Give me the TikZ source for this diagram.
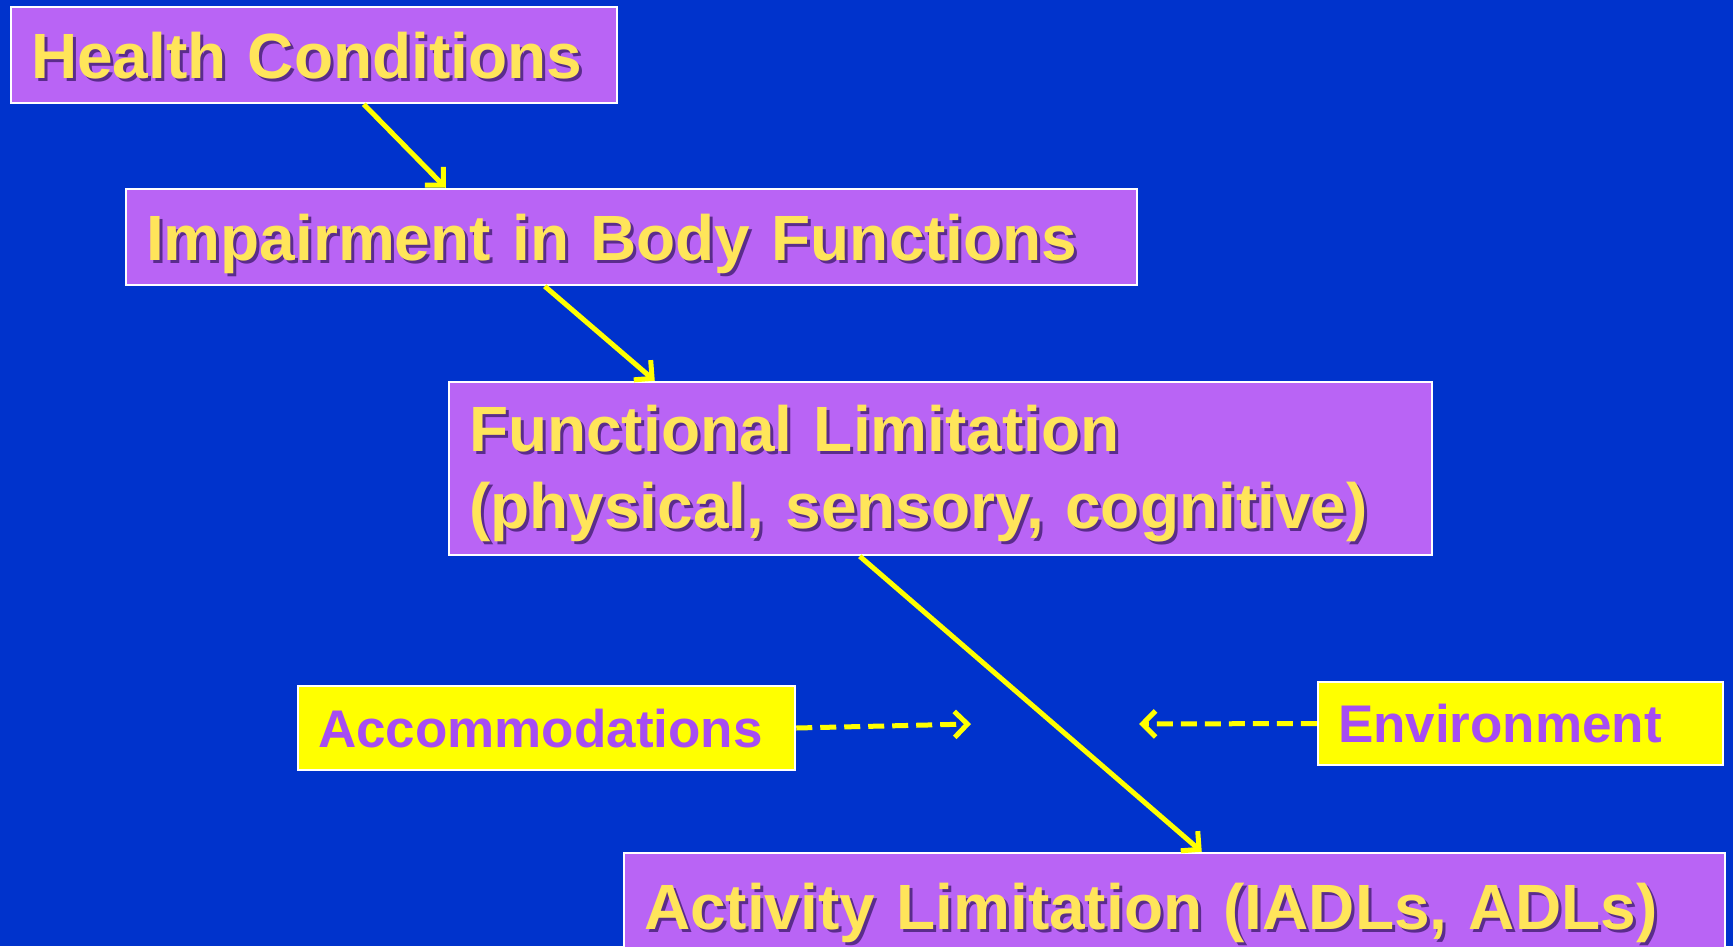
\documentclass[tikz,border=0pt]{standalone}
\usepackage{fontspec}
\setmainfont{Liberation Sans}
\usetikzlibrary{arrows.meta}
\definecolor{bg}{HTML}{0033CC}
\definecolor{boxp}{HTML}{B964F5}
\definecolor{txty}{HTML}{FFE55A}
\definecolor{shdc}{HTML}{5A2C8C}
\definecolor{ylw}{HTML}{FFFF00}
\definecolor{txtp}{HTML}{A64DF2}
\newcommand\shadowtext[1]{\leavevmode\rlap{\kern3pt\smash{\raisebox{-3pt}{\textcolor{shdc}{#1}}}}#1}
\tikzset{
  pbox/.style={draw=white, line width=2.5pt, fill=boxp, inner xsep=20pt, inner ysep=0pt,
    font=\fontsize{64}{77}\selectfont\bfseries, text=txty, align=left},
  ybox/.style={draw=white, line width=2.5pt, fill=ylw, inner xsep=20pt, inner ysep=0pt,
    font=\fontsize{53}{64}\selectfont\bfseries, text=txtp, align=left},
  flow/.style={draw=ylw, line width=5pt, -{Straight Barb[length=13pt,width=26pt]}},
  side/.style={flow, dash pattern=on 16pt off 8pt}
}
\begin{document}
\begin{tikzpicture}[x=1pt,y=-1pt]
\useasboundingbox (0,0) rectangle (1733,946);
\clip (0,0) rectangle (1733,946);
\fill[bg] (0,0) rectangle (1733,946);

\node[pbox, minimum width=606pt, minimum height=96pt, text width=566pt, text height=46pt, text depth=0pt]
  (hc) at (314,55) {\shadowtext{Health Conditions}};
\node[pbox, minimum width=1011pt, minimum height=96pt, text width=971pt, text height=46pt, text depth=0pt]
  (imp) at (631.5,237) {\shadowtext{Impairment in Body Functions}};
\node[pbox, minimum width=983pt, minimum height=173pt, text width=943pt, text height=46pt, text depth=81pt]
  (func) at (940.5,468.5) {\shadowtext{Functional Limitation}\\\shadowtext{(physical, sensory, cognitive)}};
\node[pbox, minimum width=1101pt, minimum height=106pt, text width=1061pt, text height=46pt, text depth=0pt]
  (act) at (1174.5,906) {\shadowtext{Activity Limitation (IADLs, ADLs)}};
\node[ybox, minimum width=497pt, minimum height=84pt, text width=457pt, text height=38pt, text depth=0pt]
  (acc) at (546.5,728) {Accommodations};
\node[ybox, minimum width=405pt, minimum height=83pt, text width=365pt, text height=38pt, text depth=0pt]
  (env) at (1520.5,723.5) {Environment};

\draw[flow] ([xshift=354pt]hc.south west) -- ([xshift=321pt]imp.north west);
\draw[flow] ([xshift=420pt]imp.south west) -- ([xshift=207pt]func.north west);
\draw[flow] ([xshift=412pt]func.south west) -- ([xshift=579pt]act.north west);

\coordinate (ca) at (971,724);
\coordinate (ce) at (1139,724);
\draw[side] (acc.east) -- (ca);
\draw[side] (env.west) -- (ce);
\end{tikzpicture}
\end{document}
